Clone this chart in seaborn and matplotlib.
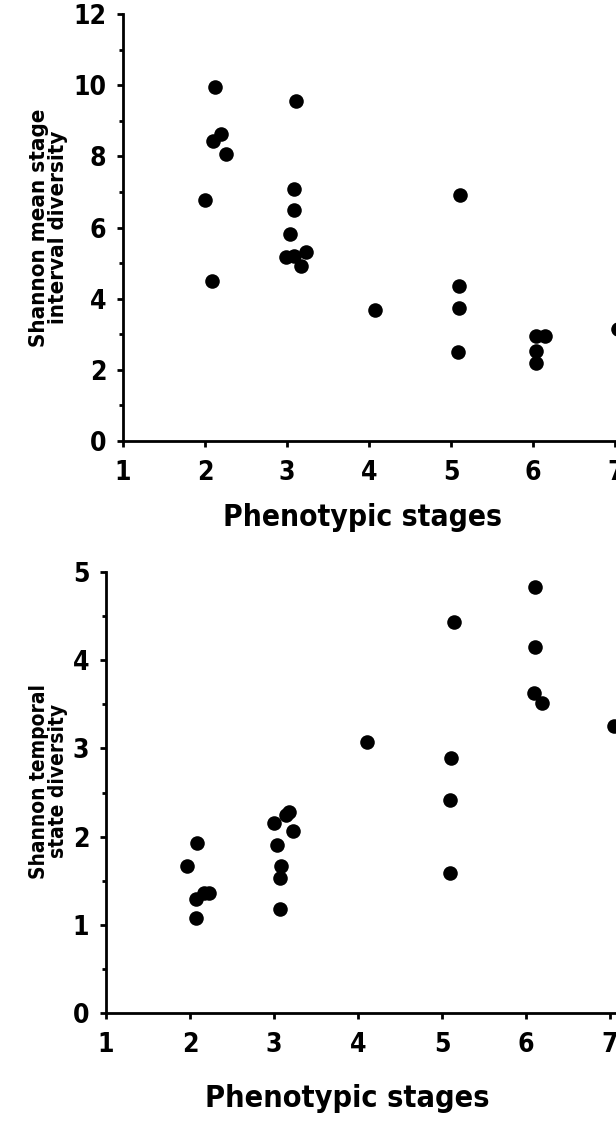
import numpy as np
import pandas as pd
import matplotlib.pyplot as plt
import seaborn as sns
from matplotlib.ticker import MultipleLocator

sns.set_style("ticks")
plt.rcParams['font.family'] = ['DejaVu Sans']
plt.rcParams['font.stretch'] = 'condensed'
plt.rcParams['font.weight'] = 'bold'
plt.rcParams['text.color'] = 'black'
plt.rcParams['axes.labelcolor'] = 'black'
plt.rcParams['xtick.color'] = 'black'
plt.rcParams['ytick.color'] = 'black'

# upper panel: mean stage interval diversity
top_stage = [1.995, 2.09, 2.10, 2.19, 2.25, 2.12, 2.99, 3.09, 3.23, 3.17, 3.04, 3.09,
             3.09, 3.11, 4.07, 5.08, 5.09, 5.09, 5.11, 6.04, 6.04, 6.04, 6.15, 7.03]
top_div = [6.77, 4.49, 8.42, 8.62, 8.06, 9.96, 5.18, 5.19, 5.30, 4.91, 5.83, 6.49,
           7.08, 9.56, 3.69, 2.49, 3.74, 4.36, 6.92, 2.18, 2.52, 2.96, 2.96, 3.15]

# lower panel: temporal state diversity
bot_stage = [1.97, 2.07, 2.07, 2.17, 2.23, 2.08, 3.00, 3.14, 3.18, 3.23, 3.04, 3.08,
             3.07, 3.07, 4.11, 5.09, 5.10, 5.11, 5.14, 6.09, 6.19, 6.10, 6.11, 7.05]
bot_div = [1.67, 1.08, 1.29, 1.36, 1.36, 1.93, 2.15, 2.25, 2.28, 2.06, 1.91, 1.67,
           1.53, 1.18, 3.07, 1.59, 2.41, 2.89, 4.43, 3.63, 3.52, 4.15, 4.83, 3.25]

x_ticks = [1, 2, 3, 4, 5, 6, 7]
top_yticks = [0, 2, 4, 6, 8, 10, 12]
bot_yticks = [0, 1, 2, 3, 4, 5]

top_df = pd.DataFrame({'stage': top_stage, 'div': top_div})
bot_df = pd.DataFrame({'stage': bot_stage, 'div': bot_div})

fig = plt.figure(figsize=(6.16, 11.27), dpi=100)
ax1 = fig.add_axes([123 / 616, 1 - 441 / 1127, 493 / 616, 427 / 1127])
ax2 = fig.add_axes([106 / 616, 1 - 1013 / 1127, 510 / 616, 441 / 1127])


def style(ax, df, ylab, yticks, xmax, minor, ylab_xy, xlab_xy, xlab_size, ylab_size):
    sns.scatterplot(data=df, x='stage', y='div', ax=ax, s=110, color='black',
                    edgecolor='black', linewidth=0, legend=False)
    ax.set_xlim(1, xmax)
    ax.set_ylim(0, yticks[-1])
    ax.set_xticks(x_ticks)
    ax.set_yticks(yticks)
    ax.yaxis.set_minor_locator(MultipleLocator(minor))
    sns.despine(ax=ax)
    for s in ['left', 'bottom']:
        ax.spines[s].set_linewidth(2.0)
        ax.spines[s].set_color('black')
    ax.tick_params(axis='both', which='major', length=4, width=2, color='black',
                   labelsize=19, pad=8)
    ax.tick_params(axis='x', which='major', pad=10)
    ax.tick_params(axis='y', which='minor', length=3, width=2, color='black')
    ax.set_xlabel('Phenotypic stages', fontsize=xlab_size, fontweight='bold')
    ax.set_ylabel(ylab, fontsize=ylab_size, fontweight='bold', linespacing=0.95)
    ax.yaxis.set_label_coords(*ylab_xy)
    ax.xaxis.set_label_coords(*xlab_xy)
    ax.patch.set_alpha(0)


style(ax1, top_df, 'Shannon mean stage\ninterval diversity', top_yticks, 7.01, 1,
      (-0.112, 0.5), (0.486, -0.145), 21.5, 16)
style(ax2, bot_df, 'Shannon temporal\nstate diversity', bot_yticks, 7.07, 0.5,
      (-0.0745, 0.526), (0.4735, -0.16), 22, 15)

fig.savefig('out.png', dpi=100, facecolor='white')
